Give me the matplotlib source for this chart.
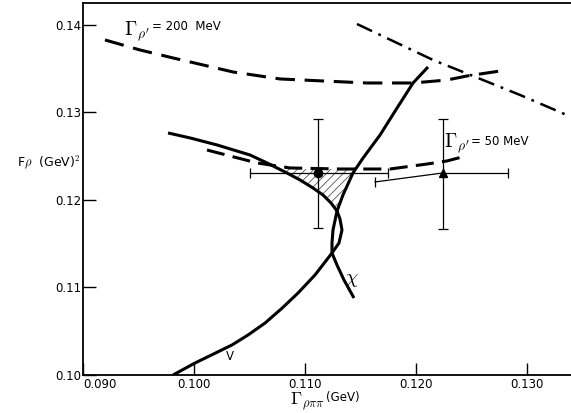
import numpy as np
import matplotlib
matplotlib.use("Agg")
from matplotlib import pyplot as plt

plt.rcParams['font.family'] = ['DejaVu Sans']
plt.rcParams['mathtext.fontset'] = 'cm'
plt.rcParams['lines.scale_dashes'] = False
plt.rcParams['lines.solid_joinstyle'] = 'round'
plt.rcParams['hatch.linewidth'] = 0.6

# curve "V" (reversed-C shape, upper left -> lens -> lower left)
v_x = [0.09766, 0.09964, 0.10207, 0.10505, 0.10658, 0.10820, 0.10955, 0.11072,
       0.11162, 0.11234, 0.11288, 0.11315, 0.11333, 0.11306, 0.11243, 0.11090,
       0.10937, 0.10790, 0.10640, 0.10490, 0.10342, 0.10009, 0.09811]
v_y = [0.12766, 0.12709, 0.12629, 0.12514, 0.12423, 0.12320, 0.12229, 0.12137,
       0.12057, 0.11966, 0.11874, 0.11783, 0.11657, 0.11509, 0.11394, 0.11143,
       0.10937, 0.10760, 0.10594, 0.10460, 0.10343, 0.10137, 0.10000]

# curve "chi" (upper right -> lens -> lower right)
chi_x = [0.12108, 0.11973, 0.11829, 0.11676, 0.11523, 0.11432, 0.11342, 0.11288,
         0.11252, 0.11243, 0.11243, 0.11288, 0.11351, 0.11441]
chi_y = [0.13520, 0.13337, 0.13051, 0.12743, 0.12480, 0.12309, 0.12057, 0.11874,
         0.11657, 0.11509, 0.11394, 0.11257, 0.11086, 0.10880]

# Gamma_rho' = 200 MeV dashed curve
g200_x = [0.09198, 0.09514, 0.09811, 0.10351, 0.10775, 0.11162, 0.11559, 0.11973,
          0.12279, 0.12459, 0.12820]
g200_y = [0.13829, 0.13714, 0.13623, 0.13463, 0.13383, 0.13360, 0.13337, 0.13337,
          0.13371, 0.13417, 0.13486]

# Gamma_rho' = 50 MeV dashed curve
g50_x = [0.10117, 0.10568, 0.10865, 0.11315, 0.11766, 0.12099, 0.12279, 0.12414]
g50_y = [0.12571, 0.12423, 0.12366, 0.12354, 0.12354, 0.12411, 0.12446, 0.12491]

# dash-dot line
dd_x = [0.11468, 0.12153, 0.12468, 0.12937, 0.13378]
dd_y = [0.14011, 0.13600, 0.13440, 0.13200, 0.12960]

# hatched allowed region
hatch_x = [0.10766, 0.10820, 0.10955, 0.11072, 0.11162, 0.11234, 0.11288,
           0.11342, 0.11432, 0.11450]
hatch_y = [0.12354, 0.12320, 0.12229, 0.12137, 0.12057, 0.11966, 0.11874,
           0.12057, 0.12309, 0.12354]

# data points with error bars
p1_x, p1_y = 0.11117, 0.12309
p1_xlo, p1_xhi = 0.10505, 0.11748
p1_ylo, p1_yhi = 0.11680, 0.12926

p2_x, p2_y = 0.12243, 0.12309
p2_xhi = 0.12829
p2_ylo, p2_yhi = 0.11669, 0.12926
p2_left_x, p2_left_y = 0.11631, 0.12206   # slanted left bar end

xticks = [0.090, 0.100, 0.110, 0.120, 0.130]
xtick_labels = ['0.090', '0.100', '0.110', '0.120', '0.130']
yticks = [0.10, 0.11, 0.12, 0.13, 0.14]
ytick_labels = ['0.10', '0.11', '0.12', '0.13', '0.14']

fig = plt.figure(figsize=(5.71, 4.13), dpi=100)
ax = fig.add_axes([83/571, 38/413, 488/571, 372/413])
ax.set_xlim(0.090, 0.13396)
ax.set_ylim(0.10, 0.14251)

lw = 2.2
ax.plot(v_x, v_y, color='black', lw=lw, solid_capstyle='butt')
ax.plot(chi_x, chi_y, color='black', lw=lw, solid_capstyle='butt')
ax.plot(g200_x, g200_y, color='black', lw=lw, dashes=(14, 7))
ax.plot(g50_x, g50_y, color='black', lw=lw, dashes=(13, 6))
ax.plot(dd_x, dd_y, color='black', lw=1.8, dashes=(12, 5, 2, 5))

ax.fill(hatch_x, hatch_y, facecolor='none', edgecolor='#555555', hatch='////', lw=0)

ax.errorbar([p1_x], [p1_y],
            xerr=[[p1_x - p1_xlo], [p1_xhi - p1_x]],
            yerr=[[p1_y - p1_ylo], [p1_yhi - p1_y]],
            fmt='o', color='black', ms=6, elinewidth=0.9, capsize=3.5, capthick=0.9)
ax.errorbar([p2_x], [p2_y],
            xerr=[[0], [p2_xhi - p2_x]],
            yerr=[[p2_y - p2_ylo], [p2_yhi - p2_y]],
            fmt='^', color='black', ms=6, elinewidth=0.9, capsize=3.5, capthick=0.9)
ax.plot([p2_x, p2_left_x], [p2_y, p2_left_y], color='black', lw=0.9,
        marker='|', markevery=[1], ms=7, mew=0.9)

# labels
ax.text(0.09369, 0.13886, r'$\Gamma_{\rho^{\prime}}$', fontsize=14, ha='left', va='baseline')
ax.text(0.09622, 0.13977, '= 200  MeV', fontsize=8.5, ha='left', va='center')
ax.text(0.12252, 0.12606, r'$\Gamma_{\rho^{\prime}}$', fontsize=14, ha='left', va='baseline')
ax.text(0.12495, 0.12674, '= 50 MeV', fontsize=8.5, ha='left', va='center')
ax.text(0.10324, 0.10206, 'V', fontsize=8.5, ha='center', va='center')
ax.text(0.11423, 0.11086, r'$\chi$', fontsize=14, ha='center', va='center')

fig.text(290/571, 1 - 404/413, r'$\Gamma_{\rho\pi\pi}$', fontsize=13, ha='left', va='baseline')
fig.text(326/571, 1 - 398/413, '(GeV)', fontsize=8.5, ha='left', va='center')
fig.text(17/571, 1 - 162/413, r'F$\rho$  (GeV)$^2$', fontsize=9, ha='left', va='center')

ax.set_xticks(xticks)
ax.set_xticklabels(xtick_labels)
ax.set_yticks(yticks)
ax.set_yticklabels(ytick_labels)
ax.tick_params(direction='in', length=9, width=1.0, labelsize=8.5)
ax.tick_params(axis='y', pad=1.5)
ax.tick_params(axis='x', pad=2.5)
ax.get_xticklabels()[0].set_horizontalalignment('left')

ax.spines['right'].set_visible(False)
for s in ['left', 'bottom', 'top']:
    ax.spines[s].set_linewidth(1.3)

fig.savefig('out.png', dpi=100)
